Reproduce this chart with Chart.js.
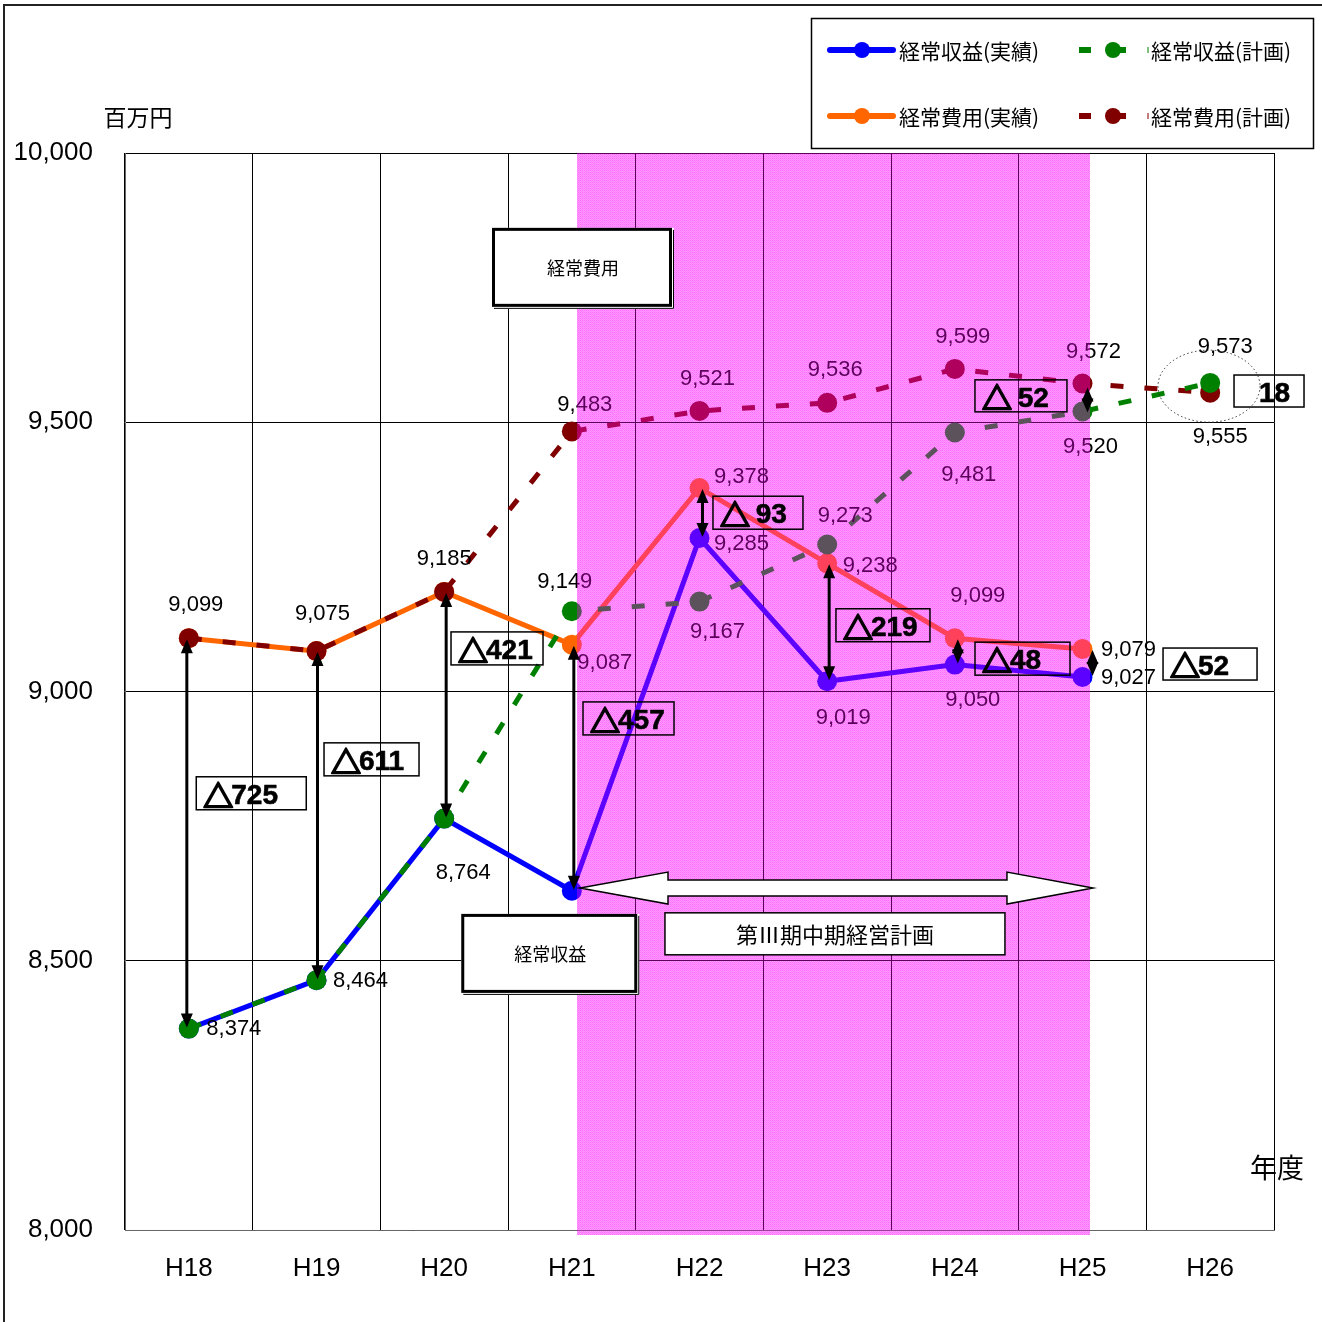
<!DOCTYPE html>
<html><head><meta charset="utf-8">
<script src="https://cdn.jsdelivr.net/npm/chart.js@4/dist/chart.umd.min.js"></script>
<style>html,body{margin:0;padding:0;background:#fff}#wrap{width:1322px;height:1322px;position:relative}</style>
</head><body><div id="wrap"><canvas id="c" width="1322" height="1322"></canvas></div>
<script>
// ---- data ----
const categories = ['H18','H19','H20','H21','H22','H23','H24','H25','H26'];
const revenueActual = [8374, 8464, 8764, 8630, 9285, 9019, 9050, 9027, null];
const costActual    = [9099, 9075, 9185, 9087, 9378, 9238, 9099, 9079, null];
const revenuePlan   = [8374, 8464, 8764, 9149, 9167, 9273, 9481, 9520, 9573];
const costPlan      = [9099, 9075, 9185, 9483, 9521, 9536, 9599, 9572, 9555];
const yTicks = [8000, 8500, 9000, 9500, 10000];
const gapLabels = ['△725', '△611', '△421', '△457', '△ 93', '△219', '△48', '△52'];
const planGapLabel = '△ 52';
const h26GapLabel = '18';
const seriesNames = ['経常収益(実績)', '経常収益(計画)', '経常費用(実績)', '経常費用(計画)'];

// ---- label placement (pixel offsets from point) ----
const labelOff = {
  revenueActual: [[45,0],[44,1],[19,54],null,[42,6],[16,37],[18,35],[46,1],null],
  costActual:    [[7,-33],[6,-37],[0,-33],[33,18],[42,-11],[43,3],[23,-42],[46,1],null],
  revenuePlan:   [null,null,null,[-7,-29],[18,30],[18,-29],[14,42],[8,35],[15,-36]],
  costPlan:      [null,null,null,[13,-26],[8,-32],[8,-33],[8,-32],[11,-32],[10,44]]
};
const arrowDx = [-2, 1, 2, 2, 3, 2, 3, 10];

const gapBoxes = [
  {i:0.489, v:8811, w:110, h:33},
  {i:1.431, v:8874, w:95, h:33},
  {i:2.414, v:9080, w:92, h:33},
  {i:3.444, v:8950, w:91, h:33},
  {i:4.458, v:9332, w:90, h:33},
  {i:5.437, v:9123, w:94, h:33},
  {i:6.530, v:9061, w:95, h:33},
  {i:7.999, v:9051, w:94, h:32}
];
const planGapBox = {i:6.518, v:9549, w:92, h:32};
const h26Box = {i:8.461, v:9558, w:70, h:32};
const band = {from: 3.04, to: 7.06};

const JP = '"Noto Sans CJK JP", sans-serif';
const NUM = '"Liberation Sans", "Noto Sans CJK JP", sans-serif';

function fmt(v){ return v.toLocaleString('en-US'); }

function makeBasePattern(ctx){
  const c = document.createElement('canvas'); c.width = 4; c.height = 4;
  const g = c.getContext('2d');
  const cols = [
    ['#ffa8ff', '#fff4ff', '#ffa8ff', '#ffe0ff'],
    ['#fff4ff', '#ffc8ff', '#fff4ff', '#ffc8ff'],
    ['#ffa8ff', '#ffe0ff', '#ffa8ff', '#fff4ff'],
    ['#fff4ff', '#ffc8ff', '#fff4ff', '#ffc8ff']
  ];
  for (let r = 0; r < 4; r++) for (let q = 0; q < 4; q++) {
    g.fillStyle = cols[r][q]; g.fillRect(q, r, 1, 1);
  }
  return ctx.createPattern(c, 'repeat');
}

function arrowHead(ctx, x, y, dir){
  ctx.beginPath();
  ctx.moveTo(x, y);
  ctx.lineTo(x - 6, y - dir*14);
  ctx.lineTo(x + 6, y - dir*14);
  ctx.closePath(); ctx.fill();
}
function vArrow(ctx, x, y1, y2){
  const top = Math.min(y1,y2), bot = Math.max(y1,y2);
  ctx.save();
  ctx.strokeStyle = '#000'; ctx.fillStyle = '#000'; ctx.lineWidth = 3;
  ctx.beginPath(); ctx.moveTo(x, top + 10); ctx.lineTo(x, bot - 10); ctx.stroke();
  arrowHead(ctx, x, top + 1, -1);
  arrowHead(ctx, x, bot - 1, 1);
  ctx.restore();
}
function textBox(ctx, cx, cy, w, h, text, align){
  ctx.save();
  ctx.strokeStyle = '#000'; ctx.lineWidth = 1.5;
  ctx.strokeRect(cx - w/2, cy - h/2, w, h);
  ctx.fillStyle = '#000';
  ctx.textBaseline = 'middle';
  ctx.lineJoin = 'round';
  const ty = cy + 3;
  if (align === 'right') {
    ctx.font = 'bold 28px ' + NUM; ctx.textAlign = 'right';
    ctx.lineWidth = 0.6;
    ctx.fillText(text, cx + w/2 - 14, ty); ctx.strokeText(text, cx + w/2 - 14, ty);
  } else {
    let x = cx - w/2 + 8;
    const tri = text.charAt(0), rest = text.slice(1);
    ctx.textAlign = 'left';
    ctx.font = 'bold 30px ' + JP; ctx.lineWidth = 2;
    ctx.fillText(tri, x - 1, ty - 1); ctx.strokeText(tri, x - 1, ty - 1);
    x += ctx.measureText(tri).width - 3;
    ctx.font = 'bold 28px ' + NUM; ctx.lineWidth = 0.6;
    ctx.fillText(rest, x, ty); ctx.strokeText(rest, x, ty);
  }
  ctx.restore();
}
function doubleBox(ctx, x, y, w, h, text, fs){
  ctx.save();
  ctx.fillStyle = '#fff'; ctx.fillRect(x, y, w, h);
  ctx.strokeStyle = '#000'; ctx.lineWidth = 3;
  ctx.strokeRect(x + 1.5, y + 1.5, w - 5, h - 5);
  ctx.lineWidth = 1;
  ctx.beginPath(); ctx.moveTo(x + 2, y + h - 0.5); ctx.lineTo(x + w - 0.5, y + h - 0.5); ctx.lineTo(x + w - 0.5, y + 2); ctx.stroke();
  ctx.fillStyle = '#000'; ctx.font = fs + 'px ' + JP;
  ctx.textAlign = 'center'; ctx.textBaseline = 'middle';
  ctx.fillText(text, x + w/2, y + h/2);
  ctx.restore();
}

const overlayPlugin = {
  id: 'overlay',
  beforeDraw(chart){
    const ctx = chart.ctx, xs = chart.scales.x, area = chart.chartArea;
    const bx1 = Math.round(xs.getPixelForValue(band.from)), bx2 = Math.round(xs.getPixelForValue(band.to));
    ctx.save();
    ctx.fillStyle = makeBasePattern(ctx);
    ctx.fillRect(bx1, area.top, bx2 - bx1, area.bottom + 5 - area.top);
    ctx.restore();
  },
  afterDatasetsDraw(chart){
    const ctx = chart.ctx, xs = chart.scales.x, ys = chart.scales.y, area = chart.chartArea;
    const X = i => xs.getPixelForValue(i), Y = v => ys.getPixelForValue(v);
    // data labels
    const sets = [['revenueActual', revenueActual], ['costActual', costActual], ['revenuePlan', revenuePlan], ['costPlan', costPlan]];
    ctx.save();
    ctx.font = '22px ' + NUM; ctx.fillStyle = '#000'; ctx.textAlign = 'center'; ctx.textBaseline = 'middle';
    sets.forEach(([k, arr]) => {
      arr.forEach((v, i) => {
        const o = labelOff[k][i];
        if (v == null || !o) return;
        ctx.fillText(fmt(v), X(i) + o[0], Y(v) + o[1]);
      });
    });
    ctx.restore();
    // magenta tint over the period band
    ctx.save();
    ctx.fillStyle = 'rgba(255,0,255,0.36)';
    const bx1 = Math.round(X(band.from)), bx2 = Math.round(X(band.to));
    ctx.fillRect(bx1, area.top, bx2 - bx1, area.bottom + 5 - area.top);
    ctx.restore();
    // gap arrows
    for (let i = 0; i < 8; i++) {
      vArrow(ctx, X(i) + arrowDx[i], Y(costActual[i]), Y(revenueActual[i]));
    }
    vArrow(ctx, X(7) + 5, Y(costPlan[7]) + 3, Y(revenuePlan[7]) + 2);
    // gap boxes
    gapBoxes.forEach((b, k) => textBox(ctx, X(b.i), Y(b.v), b.w, b.h, gapLabels[k]));
    textBox(ctx, X(planGapBox.i), Y(planGapBox.v), planGapBox.w, planGapBox.h, planGapLabel);
    textBox(ctx, X(h26Box.i), Y(h26Box.v), h26Box.w, h26Box.h, h26GapLabel, 'right');
    // dotted ellipse around H26
    ctx.save();
    ctx.strokeStyle = '#333'; ctx.lineWidth = 1; ctx.setLineDash([1.5, 2.5]);
    ctx.beginPath(); ctx.ellipse(X(7.991), Y(9567), 51, 36, 0, 0, Math.PI*2); ctx.stroke();
    ctx.restore();
    // series boxes
    doubleBox(ctx, X(3.064) - 88, Y(9861), 182, 81, '経常費用', 18);
    doubleBox(ctx, X(2.878) - 95, Y(8587), 178, 81, '経常収益', 18);
    // block double arrow
    const ax1 = X(3.064), ax2 = X(7.082), ay = Y(8635);
    ctx.save();
    ctx.fillStyle = '#fff'; ctx.strokeStyle = '#000'; ctx.lineWidth = 1.5;
    ctx.beginPath();
    ctx.moveTo(ax1, ay);
    ctx.lineTo(ax1 + 88, ay - 16); ctx.lineTo(ax1 + 88, ay - 8);
    ctx.lineTo(ax2 - 86, ay - 8); ctx.lineTo(ax2 - 86, ay - 16);
    ctx.lineTo(ax2, ay);
    ctx.lineTo(ax2 - 86, ay + 16); ctx.lineTo(ax2 - 86, ay + 8);
    ctx.lineTo(ax1 + 88, ay + 8); ctx.lineTo(ax1 + 88, ay + 16);
    ctx.closePath(); ctx.fill(); ctx.stroke();
    // plan name box
    const pcx = X(5.061), pcy = Y(8550);
    ctx.fillRect(pcx - 170, pcy - 21, 340, 42); ctx.strokeRect(pcx - 170, pcy - 21, 340, 42);
    ctx.fillStyle = '#000'; ctx.font = '22px ' + JP; ctx.textAlign = 'center'; ctx.textBaseline = 'middle';
    ctx.fillText('第Ⅲ期中期経営計画', pcx, pcy + 1);
    ctx.restore();
  },
  afterDraw(chart){
    const ctx = chart.ctx;
    ctx.save();
    // outer frame (left & top)
    ctx.strokeStyle = '#222'; ctx.lineWidth = 2;
    ctx.beginPath(); ctx.moveTo(4, 1322); ctx.lineTo(4, 5); ctx.lineTo(1322, 5); ctx.stroke();
    // unit labels
    ctx.fillStyle = '#000'; ctx.textAlign = 'center'; ctx.textBaseline = 'middle';
    ctx.font = '23px ' + JP; ctx.fillText('百万円', 138, 117);
    ctx.font = '27px ' + JP; ctx.fillText('年度', 1277, 1168);
    // legend
    ctx.fillStyle = '#fff'; ctx.fillRect(811, 18, 503, 131);
    ctx.strokeStyle = '#000'; ctx.lineWidth = 1.5; ctx.strokeRect(811.5, 18.5, 502, 130);
    const ds = chart.data.datasets;
    const rows = [[0, 1], [2, 3]];
    rows.forEach((pair, r) => {
      const y = 50 + r * 66;
      const a = ds[pair[0]], p = ds[pair[1]];
      ctx.strokeStyle = a.borderColor; ctx.fillStyle = a.borderColor; ctx.lineWidth = 6; ctx.lineCap = 'round';
      ctx.beginPath(); ctx.moveTo(830, y); ctx.lineTo(893, y); ctx.stroke();
      ctx.beginPath(); ctx.arc(862, y, 8, 0, Math.PI*2); ctx.fill();
      ctx.strokeStyle = p.borderColor; ctx.fillStyle = p.borderColor; ctx.lineCap = 'butt'; ctx.lineWidth = 6;
      ctx.beginPath(); ctx.moveTo(1079, y); ctx.lineTo(1091, y); ctx.moveTo(1113, y); ctx.lineTo(1126, y); ctx.stroke();
      ctx.beginPath(); ctx.arc(1113, y, 8, 0, Math.PI*2); ctx.fill();
      ctx.fillRect(1147.5, y - 3, 1, 6);
      ctx.fillStyle = '#000'; ctx.font = '21px ' + JP; ctx.textAlign = 'left'; ctx.textBaseline = 'middle';
      ctx.fillText(a.label, 899, y + 1);
      ctx.fillText(p.label, 1151, y + 1);
    });
    ctx.restore();
  }
};

Chart.defaults.font.family = NUM;
Chart.defaults.color = '#000';

new Chart(document.getElementById('c'), {
  type: 'line',
  data: {
    labels: categories,
    datasets: [
      {label: seriesNames[0], data: revenueActual, borderColor: '#0000ff', backgroundColor: '#0000ff', borderWidth: 5, pointRadius: 10, pointBorderWidth: 0, order: 2},
      {label: seriesNames[1], data: revenuePlan, borderColor: '#008000', backgroundColor: '#008000', borderWidth: 5, borderDash: [13, 21], pointRadius: 10, pointBorderWidth: 0, order: 1},
      {label: seriesNames[2], data: costActual, borderColor: '#ff6600', backgroundColor: '#ff6600', borderWidth: 5, pointRadius: 10, pointBorderWidth: 0, order: 2},
      {label: seriesNames[3], data: costPlan, borderColor: '#800000', backgroundColor: '#800000', borderWidth: 5, borderDash: [13, 21], pointRadius: 10, pointBorderWidth: 0, order: 1}
    ]
  },
  options: {
    responsive: false, animation: false, devicePixelRatio: 1,
    layout: {padding: {left: 0, right: 48, top: 153, bottom: 0}},
    plugins: {legend: {display: false}, tooltip: {enabled: false}, title: {display: false}},
    elements: {line: {tension: 0}},
    scales: {
      x: {
        offset: true,
        grid: {offset: true, color: '#000', lineWidth: 1, drawTicks: false},
        border: {color: '#666', width: 1},
        ticks: {font: {size: 26}, padding: 23, color: '#000'},
        afterFit: s => { s.height = 92; }
      },
      y: {
        min: 8000, max: 10000,
        afterBuildTicks: s => { s.ticks = yTicks.map(v => ({value: v})); },
        grid: {color: '#000', lineWidth: 1, drawTicks: false},
        border: {color: '#666', width: 1},
        ticks: {font: {size: 26}, padding: 32, color: '#000', callback: v => fmt(v)},
        afterFit: s => { s.width = 125; }
      }
    }
  },
  plugins: [overlayPlugin]
});
</script></body></html>
